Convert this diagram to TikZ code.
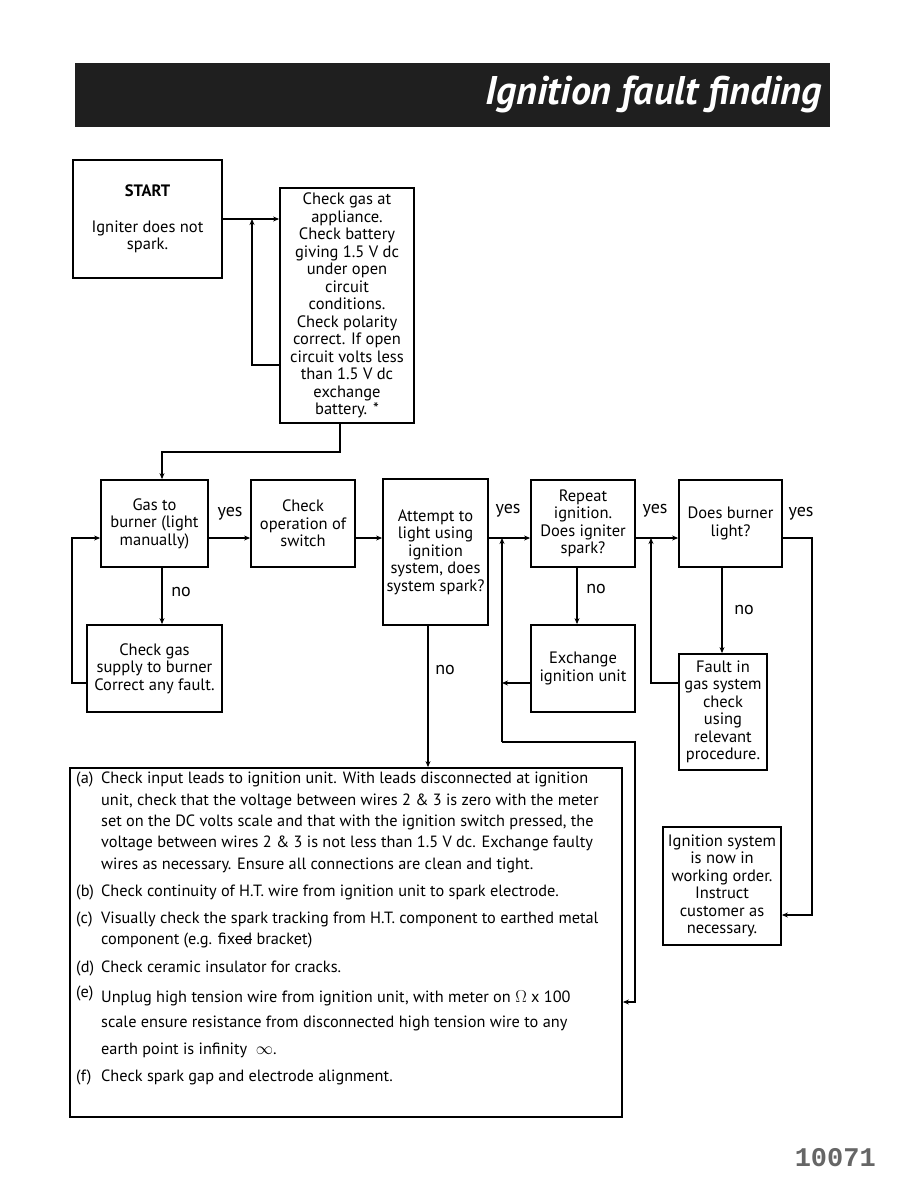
\documentclass[tikz,border=0pt]{standalone}
\usepackage{fontspec}
\setmainfont{PT Sans}
\newfontfamily\numfont{Liberation Mono}
\usetikzlibrary{arrows.meta}
\newcommand\mystrike[1]{\setbox0\hbox{#1}\rlap{\rule[0.3em]{\wd0}{0.8pt}}\box0\relax}
\begin{document}
\begin{tikzpicture}[x=1pt,y=-1pt,
  box/.style={draw, line width=1.8pt, inner sep=0pt, align=center,
    font=\fontsize{16.5}{17.5}\selectfont},
  conn/.style={line width=1.8pt},
  arr/.style={conn, -{Stealth[length=6pt,width=5pt]}},
  lbl/.style={font=\fontsize{18}{20}\selectfont, inner sep=0pt}]
\useasboundingbox (0,0) rectangle (918,1188);

% header
\node[fill=black!88, minimum width=755, minimum height=64, inner sep=0pt] (header) at (452.5,95) {};
\node[anchor=east, text=white, font=\fontsize{40}{44}\selectfont\bfseries\itshape, inner sep=0pt] (title) at (822,94) {Ignition fault finding};

% boxes
\node[box, minimum width=149, minimum height=118] (start) at (147.5,219)
  {\textbf{START}\\[18.5pt]Igniter does not\\spark.};
\node[box, minimum width=134, minimum height=235] (checkgas) at (347,305.5)
  {Check gas at\\appliance.\\Check battery\\giving 1.5 V dc\\under open\\circuit\\conditions.\\Check polarity\\correct. If open\\circuit volts less\\than 1.5 V dc\\exchange\\battery. *};
\node[box, minimum width=107, minimum height=87] (gas) at (154.5,523.5)
  {Gas to\\burner (light\\manually)};
\node[box, minimum width=104, minimum height=87] (switch) at (303,523.5)
  {Check\\operation of\\switch};
\node[box, minimum width=105, minimum height=146] (attempt) at (435.5,552)
  {Attempt to\\light using\\ignition\\system, does\\system spark?};
\node[box, minimum width=104, minimum height=87] (repeat) at (583,523.5)
  {Repeat\\ignition.\\Does igniter\\spark?};
\node[box, minimum width=103, minimum height=87] (burner) at (730.5,523.5)
  {Does burner\\light?};
\node[box, minimum width=135, minimum height=87] (supply) at (154.5,668.5)
  {Check gas\\supply to burner\\Correct any fault.};
\node[box, minimum width=104, minimum height=87] (exchange) at (583,668.5)
  {Exchange\\ignition unit};
\node[box, minimum width=88, minimum height=116] (fault) at (723,712)
  {Fault in\\gas system\\check\\using\\relevant\\procedure.};
\node[box, minimum width=118, minimum height=118] (working) at (722,886)
  {Ignition system\\is now in\\working order.\\Instruct\\customer as\\necessary.};
\node[box, minimum width=552, minimum height=349] (bottom) at (346,942.5) {};
\node[anchor=north west, align=left, inner sep=0pt, font=\fontsize{16.3}{21.3}\selectfont] (checks) at (76,772)
  {\makebox[25pt][l]{(a)}Check input leads to ignition unit. With leads disconnected at ignition\\
   \hspace*{25pt}unit, check that the voltage between wires 2 \& 3 is zero with the meter\\
   \hspace*{25pt}set on the DC volts scale and that with the ignition switch pressed, the\\
   \hspace*{25pt}voltage between wires 2 \& 3 is not less than 1.5 V dc. Exchange faulty\\
   \hspace*{25pt}wires as necessary. Ensure all connections are clean and tight.\\[5.7pt]
   \makebox[25pt][l]{(b)}Check continuity of H.T. wire from ignition unit to spark electrode.\\[5.7pt]
   \makebox[25pt][l]{(c)}Visually check the spark tracking from H.T. component to earthed metal\\
   \hspace*{25pt}component (e.g. fix\mystrike{ed} bracket)\\[6.7pt]
   \makebox[25pt][l]{(d)}Check ceramic insulator for cracks.\\[8.7pt]
   \makebox[25pt][l]{\raisebox{5pt}{(e)}}Unplug high tension wire from ignition unit, with meter on $\Omega$ x 100\\[3.7pt]
   \hspace*{25pt}scale ensure resistance from disconnected high tension wire to any\\[5.7pt]
   \hspace*{25pt}earth point is infinity \ $\infty$.\\[5.7pt]
   \makebox[25pt][l]{(f)}Check spark gap and electrode alignment.};

\node[anchor=east, inner sep=0pt, text=black!60, font=\fontsize{27}{30}\selectfont\numfont\bfseries] (pageno) at (876,1158) {10071};

% helper coordinates
\coordinate (x72) at (72,0);
\coordinate (x162) at (162,0);
\coordinate (x340) at (340,0);
\coordinate (x428) at (428,0);
\coordinate (x502) at (502,0);
\coordinate (x577) at (577,0);
\coordinate (x635) at (635,0);
\coordinate (x651) at (651,0);
\coordinate (x722) at (722,0);
\coordinate (x812) at (812,0);
\coordinate (j1) at (252,219);
\coordinate (y365) at (0,365);
\coordinate (y452) at (0,452);
\coordinate (y538) at (0,538);
\coordinate (y683) at (0,683);
\coordinate (y742) at (0,742);
\coordinate (y915) at (0,915);
\coordinate (y1002) at (0,1002);

% connectors
\draw[arr] (start.east) -- (checkgas.west |- start.east);
\draw[arr] (checkgas.west |- y365) -| (j1);
\draw[arr] (checkgas.south -| x340) -- (x340 |- y452) -- (x162 |- y452) -- (gas.north -| x162);
\draw[arr] (gas.east |- y538) -- (switch.west |- y538);
\draw[arr] (switch.east |- y538) -- (attempt.west |- y538);
\draw[arr] (gas.south -| x162) -- (supply.north -| x162);
\draw[arr] (supply.west |- y683) -- (x72 |- y683) -- (x72 |- y538) -- (gas.west |- y538);
\draw[arr] (attempt.east |- y538) -- (repeat.west |- y538);
\draw[arr] (attempt.south -| x428) -- (bottom.north -| x428);
\draw[arr] (x502 |- y742) -- (x502 |- y538);
\draw[arr] (x502 |- y742) -- (x635 |- y742) -- (x635 |- y1002) -- (bottom.east |- y1002);
\draw[arr] (exchange.west |- y683) -- (x502 |- y683);
\draw[arr] (repeat.south -| x577) -- (exchange.north -| x577);
\draw[arr] (repeat.east |- y538) -- (burner.west |- y538);
\draw[arr] (fault.west |- y683) -- (x651 |- y683) -- (x651 |- y538);
\draw[arr] (burner.south -| x722) -- (fault.north -| x722);
\draw[arr] (burner.east |- y538) -- (x812 |- y538) -- (x812 |- y915) -- (working.east |- y915);

% labels
\node[lbl] (l1) at (230,514) {yes};
\node[lbl] (l2) at (181,592) {no};
\node[lbl] (l3) at (508,511) {yes};
\node[lbl] (l4) at (445,670) {no};
\node[lbl] (l5) at (596,589) {no};
\node[lbl] (l6) at (655,511) {yes};
\node[lbl] (l7) at (744,610) {no};
\node[lbl] (l8) at (801,514) {yes};
\end{tikzpicture}
\end{document}
